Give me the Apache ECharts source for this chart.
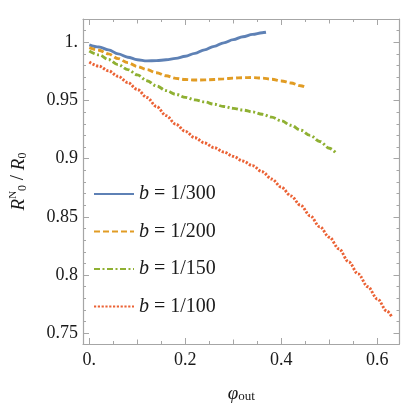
<!DOCTYPE html>
<html>
<head>
<meta charset="utf-8">
<script src="https://cdn.jsdelivr.net/npm/echarts@6/dist/echarts.min.js"></script>
<style>html,body{margin:0;padding:0;background:#fff}#c{width:402px;height:409px}</style>
</head>
<body>
<div id="c"></div>
<script>
// ---- data ----
const seriesNames = ['b = 1/300', 'b = 1/200', 'b = 1/150', 'b = 1/100'];
const phiBlue = [0,0.02,0.04,0.06,0.08,0.10,0.12,0.14,0.16,0.18,0.20,0.22,0.24,0.26,0.28,0.30,0.32,0.34,0.36,0.368];
const ratioBlue = [0.9978,0.996,0.9935,0.990,0.9872,0.985,0.984,0.9842,0.985,0.9862,0.988,0.9905,0.9935,0.9965,0.9995,1.0023,1.0048,1.0068,1.0082,1.0086];
const phiOrange = [0,0.02,0.04,0.06,0.08,0.10,0.12,0.14,0.16,0.18,0.20,0.22,0.24,0.26,0.28,0.30,0.32,0.34,0.36,0.38,0.40,0.42,0.44,0.45];
const ratioOrange = [0.9954,0.9932,0.990,0.986,0.9825,0.9792,0.9765,0.9738,0.9712,0.969,0.968,0.9676,0.9677,0.968,0.9686,0.9692,0.9696,0.9697,0.9692,0.9683,0.9668,0.965,0.9627,0.9615];
const phiGreen = [0,0.02,0.04,0.06,0.08,0.10,0.12,0.14,0.16,0.18,0.20,0.22,0.24,0.26,0.28,0.30,0.32,0.34,0.36,0.38,0.40,0.42,0.44,0.46,0.48,0.50,0.513];
const ratioGreen = [0.9925,0.9892,0.9852,0.9808,0.9765,0.972,0.967,0.9625,0.9585,0.9553,0.9527,0.9505,0.9488,0.9468,0.9448,0.9432,0.9418,0.9402,0.9382,0.9357,0.9325,0.9287,0.9245,0.920,0.9148,0.909,0.9052];
const phiRed = [0,0.02,0.04,0.06,0.08,0.10,0.12,0.14,0.16,0.18,0.20,0.22,0.24,0.26,0.28,0.30,0.32,0.34,0.36,0.38,0.40,0.42,0.44,0.46,0.48,0.50,0.52,0.54,0.56,0.58,0.60,0.62,0.631];
const ratioRed = [0.983,0.9795,0.9755,0.9708,0.9655,0.9595,0.9525,0.9448,0.937,0.9297,0.9235,0.918,0.9135,0.9095,0.9058,0.902,0.898,0.894,0.8888,0.8825,0.8755,0.868,0.860,0.851,0.8415,0.8325,0.8225,0.8115,0.801,0.790,0.7795,0.769,0.7634];

const xLabelTicks = [0, 0.2, 0.4, 0.6];
const xMidTicks = [0.1, 0.3, 0.5];
const xMinorTicks = [0.05, 0.15, 0.25, 0.35, 0.45, 0.55];
const yLabelTicks = [0.75, 0.8, 0.85, 0.9, 0.95, 1.0];
const yMinorTicks = [0.76,0.77,0.78,0.79,0.81,0.82,0.83,0.84,0.86,0.87,0.88,0.89,0.91,0.92,0.93,0.94,0.96,0.97,0.98,0.99,1.01,1.02];

// ---- styling ----
const X_MIN = -0.01315, X_MAX = 0.6461, Y_MIN = 0.7408, Y_MAX = 1.0200;
const FRAME = '#a6a6a6';
const FONT = "'Liberation Serif', 'DejaVu Serif', serif";
const TXT = '#1a1a1a';
const colors = ['#5E81B5', '#E19C24', '#8FB032', '#EB6235'];
const dashes = ['solid', [6, 3], [6, 2.5, 2, 2.5], [2.2, 1.6]];

function fmt(v) {
  if (v === 0) return '0.';
  if (v === 1) return '1.';
  return String(v);
}

function axis(kind, pos, ticks, len, withLabels, withLine) {
  return {
    type: 'value', gridIndex: 0, position: pos,
    min: kind === 'x' ? X_MIN : Y_MIN,
    max: kind === 'x' ? X_MAX : Y_MAX,
    axisLine: { show: withLine, onZero: false, lineStyle: { color: FRAME, width: 1.2 } },
    axisTick: { show: true, inside: true, length: len, customValues: ticks, lineStyle: { color: FRAME, width: 1 } },
    axisLabel: withLabels ? {
      show: true, customValues: ticks, formatter: fmt,
      fontFamily: FONT, fontSize: 18, color: TXT, margin: kind === 'x' ? 7 : 5
    } : { show: false },
    splitLine: { show: false }, minorTick: { show: false }
  };
}

const xAxes = [
  axis('x', 'bottom', xLabelTicks, 6, true, true),
  axis('x', 'bottom', xMidTicks, 4.5, false, false),
  axis('x', 'bottom', xMinorTicks, 3, false, false),
  axis('x', 'top', xLabelTicks, 6, false, true),
  axis('x', 'top', xMidTicks, 4.5, false, false),
  axis('x', 'top', xMinorTicks, 3, false, false)
];
xAxes[0].name = '{phi|φ}{sub|out}';
xAxes[0].nameLocation = 'middle';
xAxes[0].nameGap = 38;
xAxes[0].nameTextStyle = {
  rich: {
    phi: { fontFamily: FONT, fontStyle: 'italic', fontSize: 19, color: TXT, verticalAlign: 'bottom' },
    sub: { fontFamily: FONT, fontSize: 13, color: TXT, padding: [8, 0, 0, 0], verticalAlign: 'bottom' }
  }
};

const yAxes = [
  axis('y', 'left', yLabelTicks, 6, true, true),
  axis('y', 'left', yMinorTicks, 3, false, false),
  axis('y', 'right', yLabelTicks, 6, false, true),
  axis('y', 'right', yMinorTicks, 3, false, false)
];
yAxes[0].name = '{it|R}{sup|N}{sub|0}{n| / }{it|R}{sub|0}';
yAxes[0].nameLocation = 'middle';
yAxes[0].nameGap = 54;
yAxes[0].nameTextStyle = {
  rich: {
    it: { fontFamily: FONT, fontStyle: 'italic', fontSize: 19, color: TXT },
    n: { fontFamily: FONT, fontSize: 19, color: TXT },
    sup: { fontFamily: FONT, fontSize: 11, color: TXT, verticalAlign: 'top', padding: [0, 0, 10, 0] },
    sub: { fontFamily: FONT, fontSize: 12, color: TXT, verticalAlign: 'bottom', padding: [8, 0, 0, 0] }
  }
};

const phis = [phiBlue, phiOrange, phiGreen, phiRed];
const ratios = [ratioBlue, ratioOrange, ratioGreen, ratioRed];

const series = seriesNames.map((name, i) => ({
  name, type: 'line', xAxisIndex: 0, yAxisIndex: 0,
  data: phis[i].map((p, k) => [p, ratios[i][k]]),
  showSymbol: false, symbol: 'none', smooth: 0.35, smoothMonotone: 'x',
  lineStyle: { color: colors[i], width: 2.9, type: dashes[i], cap: 'butt' },
  itemStyle: { color: colors[i] },
  emphasis: { disabled: true }, animation: false
}));

const chart = echarts.init(document.getElementById('c'), null, { renderer: 'canvas' });
chart.setOption({
  animation: false,
  backgroundColor: '#fff',
  grid: { left: 73.5, right: 2.5, top: 19, bottom: 65, containLabel: false },
  xAxis: xAxes,
  yAxis: yAxes,
  legend: {
    show: true,
    orient: 'vertical', left: 88, top: 179,
    itemWidth: 40, itemHeight: 14, itemGap: 17.5,
    data: seriesNames,
    formatter: n => '{i|b}' + n.slice(1),
    selectedMode: false,
    itemStyle: { opacity: 0, borderWidth: 0 },
    textStyle: {
      fontFamily: FONT, fontSize: 20, color: TXT, lineHeight: 20,
      rich: { i: { fontFamily: FONT, fontStyle: 'italic', fontSize: 20, color: TXT } }
    }
  },
  series
});
</script>
</body>
</html>
